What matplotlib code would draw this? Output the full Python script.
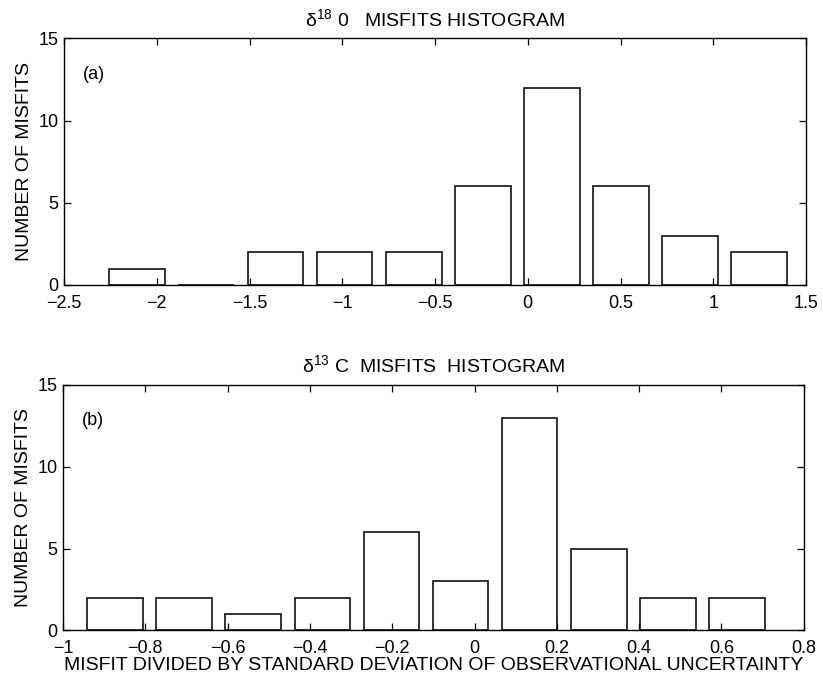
import matplotlib
matplotlib.use("Agg")
import matplotlib.pyplot as plt

## Data ##
o18_centers = [-2.105, -1.733, -1.360, -0.988, -0.615, -0.243, 0.129, 0.502, 0.874, 1.247]
o18_counts = [1, 0, 2, 2, 2, 6, 12, 6, 3, 2]
o18_ticks = [-2.5, -2, -1.5, -1, -0.5, 0, 0.5, 1, 1.5]
o18_ticklabels = ["\u22122.5", "\u22122", "\u22121.5", "\u22121", "\u22120.5", "0", "0.5", "1", "1.5"]

c13_centers = [-0.874, -0.706, -0.538, -0.370, -0.202, -0.034, 0.134, 0.302, 0.470, 0.638]
c13_counts = [2, 2, 1, 2, 6, 3, 13, 5, 2, 2]
c13_ticks = [-1, -0.8, -0.6, -0.4, -0.2, 0, 0.2, 0.4, 0.6, 0.8]
c13_ticklabels = ["\u22121", "\u22120.8", "\u22120.6", "\u22120.4", "\u22120.2", "0", "0.2", "0.4", "0.6", "0.8"]

y_ticks = [0, 5, 10, 15]

plt.rcParams["font.family"] = ["Liberation Sans", "DejaVu Sans"]
plt.rcParams["mathtext.fontset"] = "custom"
plt.rcParams["mathtext.rm"] = "Liberation Sans"
plt.rcParams["mathtext.it"] = "Liberation Sans"

fig = plt.figure(figsize=(8.23, 6.81), dpi=100)
ax1 = fig.add_axes([0.0778, 0.5815, 0.9016, 0.362])
ax2 = fig.add_axes([0.0766, 0.0742, 0.9000, 0.3605])


def style(ax, xlim, ticks, labels):
    ax.set_xlim(xlim)
    ax.set_ylim(0, 15)
    ax.set_xticks(ticks)
    ax.set_xticklabels(labels)
    ax.set_yticks(y_ticks)
    ax.tick_params(direction="in", top=True, right=True, length=5, width=0.9,
                   labelsize=13)
    ax.tick_params(axis="x", pad=7)
    ax.tick_params(axis="y", pad=4)
    for s in ax.spines.values():
        s.set_linewidth(1.0)
    ax.set_ylabel("NUMBER OF MISFITS", fontsize=14, labelpad=4)


## Plot! ##
ax1.bar(o18_centers, o18_counts, width=0.30, color="white", edgecolor="#111111", linewidth=1.2)
style(ax1, (-2.5, 1.5), o18_ticks, o18_ticklabels)
ax1.set_title("\u03b4$^{18}$ 0   MISFITS HISTOGRAM", fontsize=14, pad=9)
ax1.text(0.026, 0.852, "(a)", transform=ax1.transAxes, va="center", fontsize=13)

ax2.bar(c13_centers, c13_counts, width=0.135, color="white", edgecolor="#111111", linewidth=1.2)
style(ax2, (-1, 0.8), c13_ticks, c13_ticklabels)
ax2.set_title("\u03b4$^{13}$ C  MISFITS  HISTOGRAM", fontsize=14, pad=9)
ax2.text(0.026, 0.857, "(b)", transform=ax2.transAxes, va="center", fontsize=13)
ax2.set_xlabel("MISFIT DIVIDED BY STANDARD DEVIATION OF OBSERVATIONAL UNCERTAINTY",
               fontsize=14, labelpad=0)

fig.savefig("out.png", dpi=100)
